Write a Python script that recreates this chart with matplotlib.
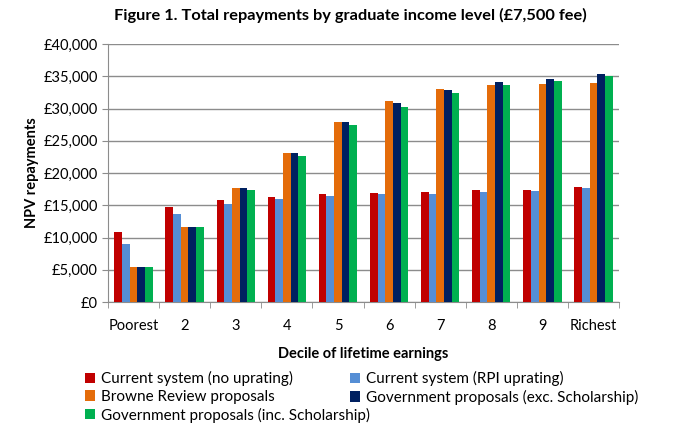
import matplotlib
matplotlib.use("Agg")
import matplotlib.pyplot as plt
import numpy as np
from matplotlib.ticker import FuncFormatter

plt.rcParams['font.family'] = ['Lato', 'DejaVu Sans']

categories = ["Poorest", "2", "3", "4", "5", "6", "7", "8", "9", "Richest"]
series_names = ["Current system (no uprating)", "Current system (RPI uprating)",
                "Browne Review proposals", "Government proposals (exc. Scholarship)",
                "Government proposals (inc. Scholarship)"]
no_uprating = [10800, 14800, 15800, 16300, 16700, 16900, 17000, 17300, 17400, 17800]
rpi_uprating = [9000, 13700, 15200, 16000, 16400, 16700, 16800, 17100, 17200, 17600]
browne = [5500, 11700, 17600, 23100, 27900, 31100, 33000, 33600, 33800, 34000]
gov_exc = [5500, 11700, 17600, 23100, 27900, 30900, 32900, 34100, 34600, 35300]
gov_inc = [5500, 11700, 17400, 22700, 27400, 30300, 32400, 33600, 34200, 35000]
series = [no_uprating, rpi_uprating, browne, gov_exc, gov_inc]
colors = ["#C00000", "#558ED5", "#E46C0A", "#002060", "#00B050"]

fig = plt.figure(figsize=(6.78, 4.29), dpi=100)
ax = fig.add_axes([108/678, 1-302/429, 511/678, 258/429])

x = np.arange(len(categories))
w = 0.15
for i, (vals, c, name) in enumerate(zip(series, colors, series_names)):
    ax.bar(x + (i - 2) * w, vals, width=w, color=c, label=name, zorder=3)

ax.set_ylim(0, 40000)
ax.set_xlim(-0.5, len(categories) - 0.5)
ax.set_yticks(np.arange(0, 40001, 5000))
ax.yaxis.set_major_formatter(FuncFormatter(lambda v, p: "£{:,.0f}".format(v)))
ax.yaxis.grid(True, color="#8C8C8C", linewidth=1, zorder=0)
ax.set_xticks(x)
ax.set_xticklabels(categories)
ax.set_xticks(np.arange(-0.5, len(categories)), minor=True)
ax.tick_params(axis='x', which='major', length=0, labelsize=10.5, pad=12)
ax.tick_params(axis='x', which='minor', length=4, color="#8C8C8C")
ax.tick_params(axis='y', length=4, color="#8C8C8C", labelsize=10.5)
for s in ["top", "right"]:
    ax.spines[s].set_visible(False)
for s in ["left", "bottom"]:
    ax.spines[s].set_color("#8C8C8C")

ax.set_ylabel("NPV repayments", fontsize=10.5, fontweight="bold", labelpad=3)
ax.set_xlabel("Decile of lifetime earnings", fontsize=10.5, fontweight="bold", labelpad=10)
fig.text(350/678, 1-15/429, "Figure 1. Total repayments by graduate income level (£7,500 fee)",
         ha="center", va="center", fontsize=11.8, fontweight="bold")

handles, labels = ax.get_legend_handles_labels()
common = dict(frameon=False, fontsize=11, handlelength=0.65, handleheight=0.65,
              handletextpad=0.4, labelspacing=0.25, borderaxespad=0, borderpad=0, loc="upper left")
fig.legend([handles[i] for i in [0, 2, 4]], [labels[i] for i in [0, 2, 4]],
           bbox_to_anchor=(85/678, 1-371/429), **common)
fig.legend([handles[i] for i in [1, 3]], [labels[i] for i in [1, 3]],
           bbox_to_anchor=(350/678, 1-371/429), **common)

fig.savefig("out.png", dpi=100)
